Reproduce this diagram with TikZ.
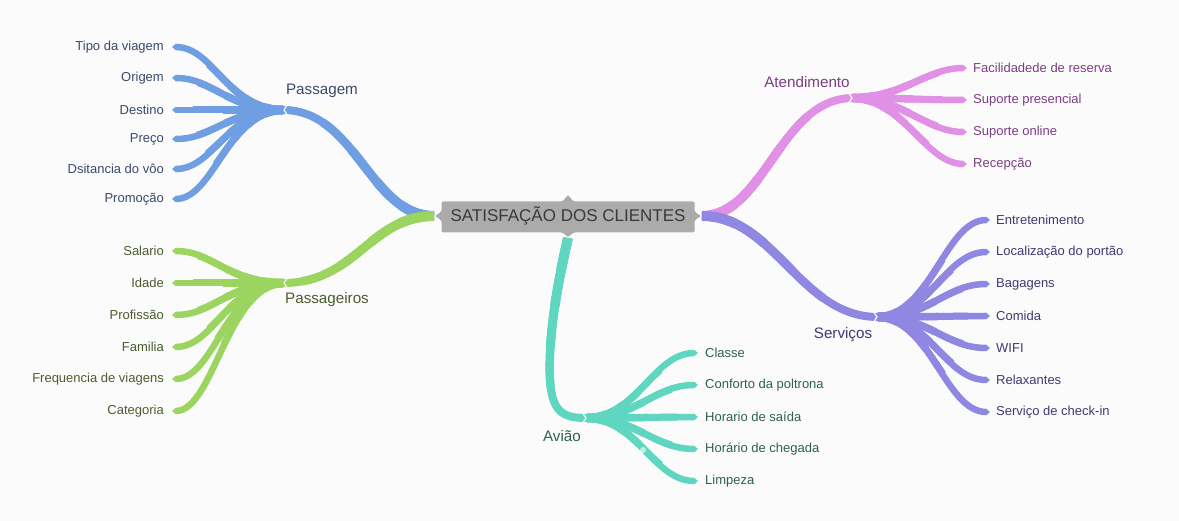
\documentclass[tikz,border=0pt]{standalone}
\usepackage{fontspec}
\setmainfont{Liberation Sans}
\usetikzlibrary{arrows.meta}
\definecolor{bgc}{RGB}{251,251,251}
\definecolor{cblue}{RGB}{111,158,227}
\definecolor{cgreen}{RGB}{155,212,94}
\definecolor{cpink}{RGB}{224,145,230}
\definecolor{cpurple}{RGB}{144,135,226}
\definecolor{cteal}{RGB}{95,214,192}
\definecolor{tblue}{RGB}{58,74,106}
\definecolor{tgreen}{RGB}{77,91,49}
\definecolor{tpink}{RGB}{123,63,130}
\definecolor{tpurple}{RGB}{63,58,114}
\definecolor{tteal}{RGB}{47,96,85}
\definecolor{boxgray}{RGB}{171,171,171}
\definecolor{boxtext}{RGB}{58,58,58}
\begin{document}
\begin{tikzpicture}[x=1pt,y=-1pt,
  lay/.style n args={3}{preaction={draw=#1, -, line width=#2, line cap=butt, dash pattern=on #3 off 3000pt}},
  mainbr/.style={draw=#1, line width=8pt, line cap=butt,
    lay={#1}{10pt}{35pt}, lay={#1}{9.5pt}{70pt}, lay={#1}{9pt}{110pt}, lay={#1}{8.5pt}{150pt}},
  leafbr/.style={draw=#1, line width=6.5pt, line cap=butt, -{Triangle[length=4pt,width=6.5pt]},
    lay={#1}{8.5pt}{20pt}, lay={#1}{8pt}{40pt}, lay={#1}{7.5pt}{60pt}, lay={#1}{7pt}{90pt}},
  leaftxt/.style={font=\fontsize{13}{15}\selectfont, inner sep=0pt},
  hubtxt/.style={font=\fontsize{15.2}{17}\selectfont, inner sep=0pt},
  chev/.style={draw=white, line width=1.2pt, line cap=round, line join=miter}]
\fill[bgc] (0,0) rectangle (1179,521);
\useasboundingbox (0,0) rectangle (1179,521);

% anchor points
\coordinate (cL) at (434,216);
\coordinate (cR) at (702,216);
\coordinate (cB) at (568,238);
\coordinate (hPas) at (283,110);
\coordinate (hPag) at (283,283);
\coordinate (hAte) at (853,98);
\coordinate (hSer) at (878,317);
\coordinate (hAvi) at (587,418);

% Passagem leaves
\foreach \y/\t [count=\i] in {47/Tipo da viagem,78/Origem,110/Destino,139/Preço,169/Dsitancia do vôo,199/Promoção}{
  \coordinate (pa\i) at (172,\y);
  \path[leafbr=cblue] (hPas) .. controls +(-55,0) and +(42,0) .. (pa\i);
  \node[leaftxt,text=tblue,anchor=east] (pat\i) at (164,\y) {\t};
}
% Passageiros leaves
\foreach \y/\t [count=\i] in {251/Salario,283/Idade,315/Profissão,347/Familia,379/Frequencia de viagens,411/Categoria}{
  \coordinate (pg\i) at (172,\y);
  \path[leafbr=cgreen] (hPag) .. controls +(-55,0) and +(42,0) .. (pg\i);
  \node[leaftxt,text=tgreen,anchor=east] (pgt\i) at (164,\y) {\t};
}
% Atendimento leaves
\foreach \y/\t [count=\i] in {68/Facilidadede de reserva,100/Suporte presencial,132/Suporte online,164/Recepção}{
  \coordinate (at\i) at (967,\y);
  \path[leafbr=cpink] (hAte) .. controls +(50,0) and +(-42,0) .. (at\i);
  \node[leaftxt,text=tpink,anchor=west] (att\i) at (973,\y) {\t};
}
% Servicos leaves
\foreach \y/\t [count=\i] in {220/Entretenimento,252/Localização do portão,284/Bagagens,316/Comida,348/WIFI,380/Relaxantes,412/Serviço de check-in}{
  \coordinate (se\i) at (990,\y);
  \path[leafbr=cpurple] (hSer) .. controls +(52,0) and +(-45,0) .. (se\i);
  \node[leaftxt,text=tpurple,anchor=west] (set\i) at (996,\y) {\t};
}
% Aviao leaves
\foreach \y/\t [count=\i] in {353/Classe,385/Conforto da poltrona,417/Horario de saída,449/Horário de chegada,481/Limpeza}{
  \coordinate (av\i) at (698,\y);
  \path[leafbr=cteal] (hAvi) .. controls +(50,0) and +(-45,0) .. (av\i);
  \node[leaftxt,text=tteal,anchor=west] (avt\i) at (705,\y) {\t};
}
\fill[white,opacity=0.6] (643,450) circle (3pt);

% main branches
\path[mainbr=cblue] (cL) .. controls (370,216) and (356,110) .. (hPas);
\path[mainbr=cgreen] (cL) .. controls (370,216) and (356,283) .. (hPag);
\path[mainbr=cpink] (cR) .. controls (765,216) and (780,98) .. (hAte);
\path[mainbr=cpurple] (cR) .. controls (775,216) and (800,317) .. (hSer);
\path[mainbr=cteal] (cB) .. controls (556,290) and (548,340) .. (550,380) .. controls (552,414) and (565,418) .. (hAvi);

% hub chevrons
\draw[chev] ([shift={(5,-6)}]hPas) -- ([shift={(1,0)}]hPas) -- ([shift={(5,6)}]hPas);
\draw[chev] ([shift={(5,-6)}]hPag) -- ([shift={(1,0)}]hPag) -- ([shift={(5,6)}]hPag);
\draw[chev] ([shift={(-5,-6)}]hAte) -- ([shift={(-1,0)}]hAte) -- ([shift={(-5,6)}]hAte);
\draw[chev] ([shift={(-5,-6)}]hSer) -- ([shift={(-1,0)}]hSer) -- ([shift={(-5,6)}]hSer);
\draw[chev] ([shift={(-5,-6)}]hAvi) -- ([shift={(-1,0)}]hAvi) -- ([shift={(-5,6)}]hAvi);

% hub labels
\node[hubtxt,text=tblue] (lPas) at (322,91) {Passagem};
\node[hubtxt,text=tgreen] (lPag) at (327,300) {Passageiros};
\node[hubtxt,text=tpink] (lAte) at (807,82) {Atendimento};
\node[hubtxt,text=tpurple] (lSer) at (843,335) {Serviços};
\node[hubtxt,text=tteal] (lAvi) at (562,436) {Avião};

% central box
\filldraw[fill=boxgray,draw=white,line width=1pt,rounded corners=1.5pt]
  (441,201) -- (562,201) -- (568,194) -- (574,201) -- (695,201) -- (695,211) -- (cR) -- (695,221) -- (695,233)
  -- (574,233) -- (cB) -- (562,233) -- (441,233) -- (441,221) -- (cL) -- (441,211) -- cycle;
\node[font=\fontsize{17}{19}\selectfont,text=boxtext,inner sep=0pt] (center) at (568,216) {SATISFAÇÃO DOS CLIENTES};
\end{tikzpicture}
\end{document}
